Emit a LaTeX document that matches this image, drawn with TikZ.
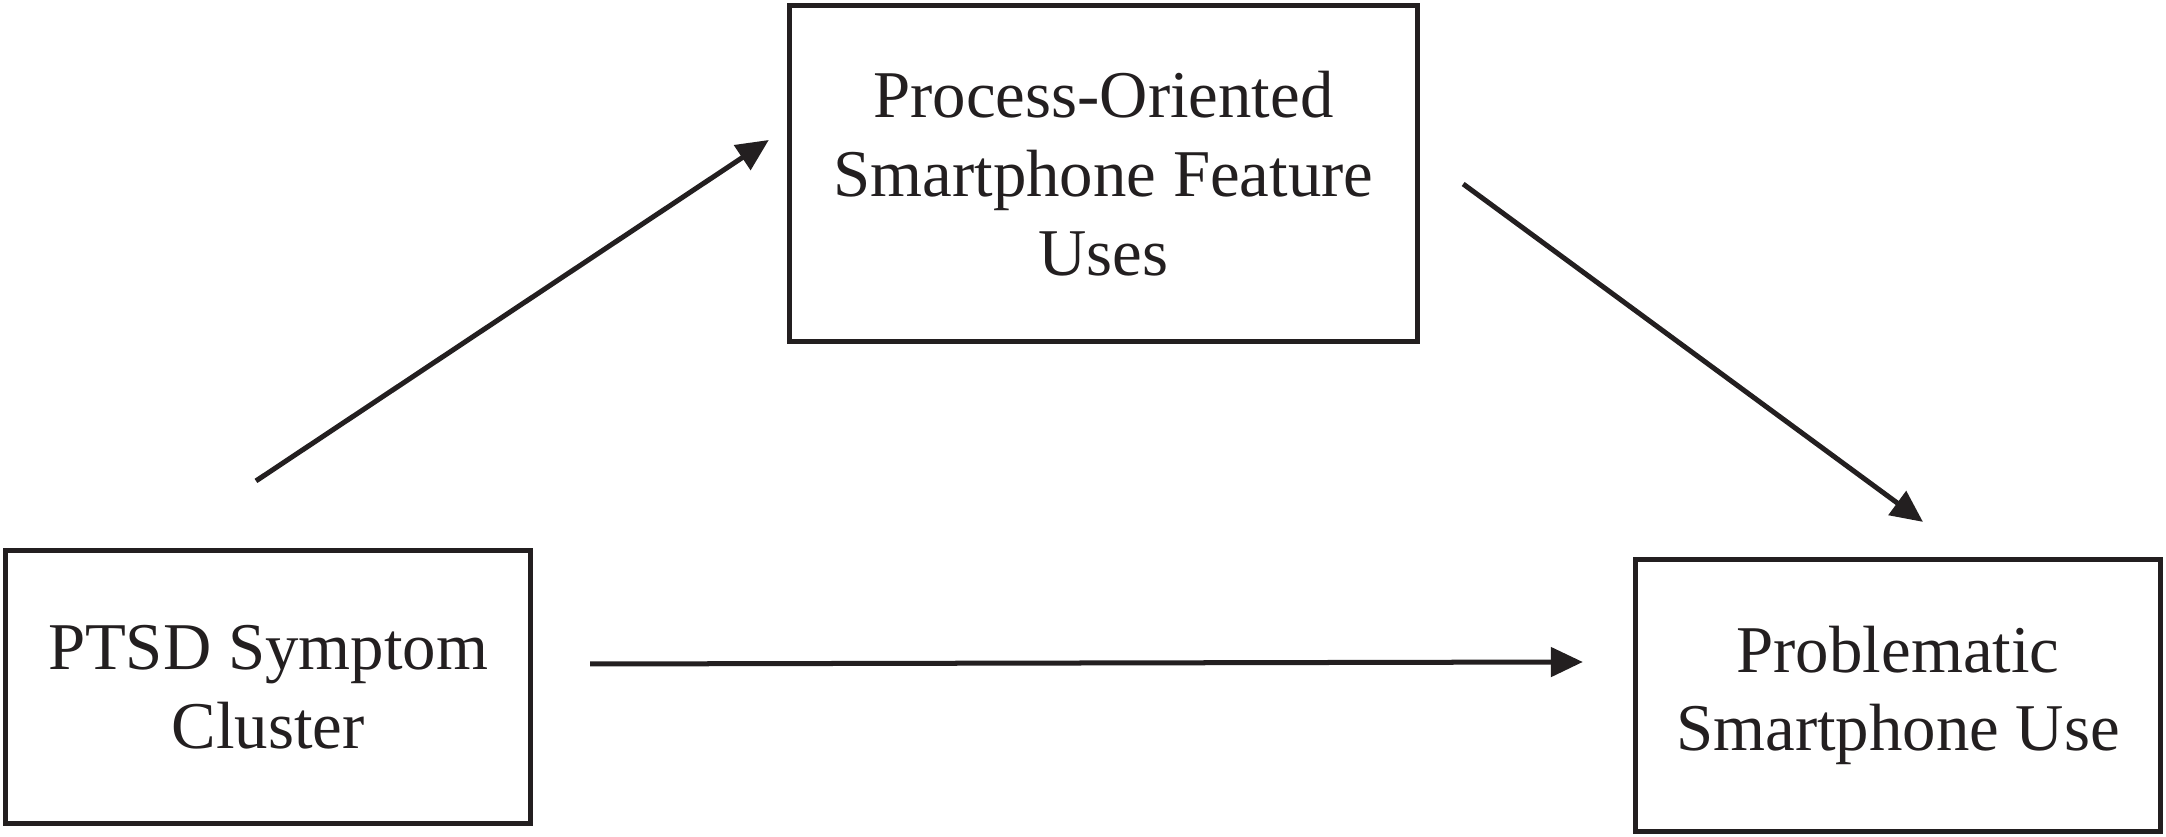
\documentclass[tikz,border=0pt]{standalone}
\usepackage{fontspec}
\setmainfont{Liberation Serif}
\usepackage{xcolor}
\usetikzlibrary{arrows.meta}
\definecolor{ink}{HTML}{231F20}

\begin{document}
\begin{tikzpicture}[x=0.01cm,y=0.01cm,
                box/.style={draw=ink,line width=0.05cm,align=center,text=ink,
                    font=\fontsize{19}{22.4}\selectfont,inner sep=0pt},
                arr/.style={draw=ink,line width=0.05cm,
                    -{Triangle[length=0.32cm,width=0.29cm]}}]
                \useasboundingbox (0,0) rectangle (2166,837);
                \node[box,minimum width=5.25cm,minimum height=2.73cm] (ptsd) at (268,150) {PTSD Symptom \\ Cluster};
                \node[box,minimum width=6.28cm,minimum height=3.36cm] (feat) at (1103.5,663.5) {Process-Oriented \\ Smartphone Feature \\ Uses};
                \node[box,minimum width=5.25cm,minimum height=2.72cm] (psu) at (1898,141.5) {Problematic \\ Smartphone Use};
                \draw[arr] ([shift={(-12,67)}]ptsd.north) -- ([shift={(-18,33.5)}]feat.west);
                \draw[arr] ([shift={(43,-10.5)}]feat.east) -- ([shift={(25,35)}]psu.north);
                \draw[arr] ([shift={(57,23)}]ptsd.east) -- ([shift={(-50,33.5)}]psu.west);
            \end{tikzpicture}
\end{document}
